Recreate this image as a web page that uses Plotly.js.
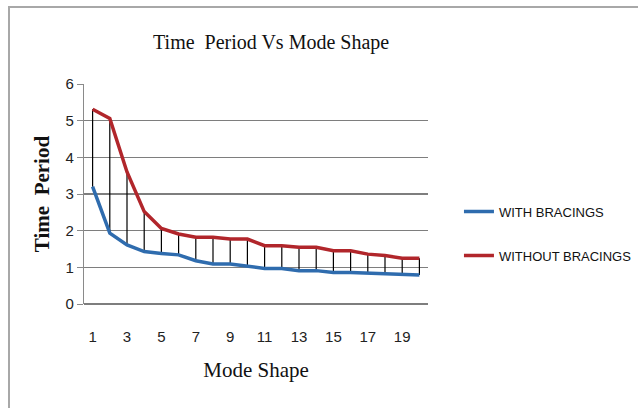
<!DOCTYPE html>
<html>
<head>
<meta charset="utf-8">
<script src="https://cdn.plot.ly/plotly-3.0.1.min.js"></script>
<style>
  html, body { margin: 0; padding: 0; background: #fff; }
  #wrap { position: relative; width: 638px; height: 408px; }
  #chart { width: 638px; height: 408px; }
  #frame { position: absolute; left: 8px; top: 6px; width: 640px; height: 410px;
           border-left: 2px solid #a8a8a8; border-top: 2px solid #a8a8a8; pointer-events: none; }
</style>
</head>
<body>
<div id="wrap">
  <div id="chart"></div>
  <div id="frame"></div>
</div>
<script>
const modeShape = [1,2,3,4,5,6,7,8,9,10,11,12,13,14,15,16,17,18,19,20];
const withBracings = [3.2,1.93,1.61,1.43,1.38,1.34,1.18,1.09,1.09,1.02,0.97,0.97,0.91,0.91,0.86,0.86,0.84,0.81,0.79,0.79];
const withoutBracings = [5.31,5.06,3.6,2.52,2.06,1.91,1.82,1.82,1.77,1.77,1.59,1.59,1.55,1.55,1.45,1.45,1.36,1.32,1.25,1.25];
const xTickVals = [1,3,5,7,9,11,13,15,17,19];
const seriesNames = ['WITH BRACINGS', 'WITHOUT BRACINGS'];

const gaps = withoutBracings.map((v, i) => v - withBracings[i]);

const traces = [
  {
    x: modeShape, y: withBracings, name: seriesNames[0], type: 'scatter', mode: 'lines',
    line: {color: '#2f6cae', width: 3.5},
    legendgroup: 'a',
    error_y: {type: 'data', symmetric: false, array: gaps, arrayminus: gaps.map(() => 0),
              width: 0, thickness: 1.2, color: '#000'}
  },
  {
    x: modeShape, y: withoutBracings, name: seriesNames[1], type: 'scatter', mode: 'lines',
    line: {color: '#b1262b', width: 3.5},
    legendgroup: 'b'
  }
];

const layout = {
  width: 638, height: 408,
  margin: {l: 84, r: 210, t: 84, b: 104, autoexpand: false},
  paper_bgcolor: '#fff', plot_bgcolor: '#fff',
  title: {text: 'Time\u00a0 Period Vs Mode Shape', x: 0.544, xref: 'paper', xanchor: 'center',
          y: 408 - 43, yref: 'container', yanchor: 'middle',
          font: {family: 'Liberation Serif', size: 20, color: '#111'}},
  xaxis: {
    range: [0.5, 20.5], tickmode: 'array', tickvals: xTickVals,
    showgrid: false, zeroline: false, showline: false, ticks: '',
    tickfont: {family: 'Liberation Sans', size: 15, color: '#222'},
    ticklabelstandoff: 22,
    title: {text: 'Mode Shape', standoff: 18, font: {family: 'Liberation Serif', size: 21, color: '#111'}}
  },
  yaxis: {
    range: [0, 6], dtick: 1, tick0: 0,
    showgrid: true, gridcolor: '#7e7e7e', gridwidth: 1.2,
    zeroline: true, zerolinecolor: '#7e7e7e', zerolinewidth: 1.2,
    showline: true, linecolor: '#8a8a8a', linewidth: 1.2,
    ticks: 'outside', ticklen: 6, tickcolor: '#8a8a8a',
    tickfont: {family: 'Liberation Sans', size: 15, color: '#222'},
    title: {text: '<b>Time\u00a0 Period</b>', standoff: 10, font: {family: 'Liberation Serif', size: 21, color: '#111'}}
  },
  showlegend: true,
  legend: {
    x: 1.09, xanchor: 'left', y: 0.32, yanchor: 'middle',
    tracegroupgap: 24,
    font: {family: 'Liberation Sans', size: 13, color: '#111'},
    bgcolor: 'rgba(0,0,0,0)', itemwidth: 30
  }
};

Plotly.newPlot('chart', traces, layout, {displayModeBar: false, staticPlot: true});
</script>
</body>
</html>
